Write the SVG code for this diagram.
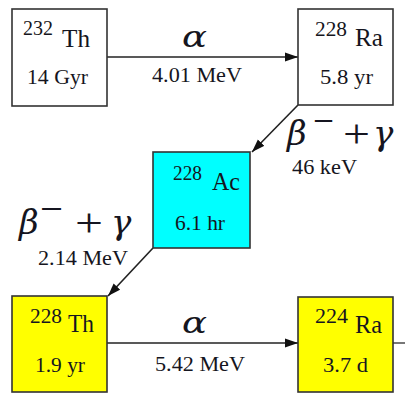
<svg xmlns="http://www.w3.org/2000/svg" width="405" height="393" viewBox="0 0 405 393">
<style>
.box{stroke:#333;stroke-width:1.6}
.w{fill:#fff}.c{fill:#00ffff}.y{fill:#ffff00}
text{font-family:"Liberation Serif","Times New Roman",serif;fill:#151520}
.m{font-size:20px}.s{font-size:25px}.h{font-size:21px}.e{font-size:20px}
.g{font-family:"DejaVu Serif","Liberation Serif",serif;font-style:italic;font-size:34px}
.a{font-family:"DejaVu Serif","Liberation Serif",serif;font-style:italic;font-size:30px}
.op{font-size:40px}
.con{stroke:#222;stroke-width:1.6;fill:none;marker-end:url(#ah)}
</style>
<defs>
<marker id="ah" markerUnits="userSpaceOnUse" markerWidth="14" markerHeight="10" refX="13" refY="5" orient="auto">
<path d="M0,0.5 L13,5 L0,9.5 Z" fill="#111"/>
</marker>
</defs>
<g id="connectors">
<line class="con" x1="107" y1="57" x2="298" y2="57"/>
<line class="con" x1="298" y1="105" x2="252" y2="152"/>
<line class="con" x1="153" y1="248" x2="108" y2="296"/>
<line class="con" x1="107" y1="343" x2="298" y2="343"/>
<line x1="393" y1="343" x2="405" y2="343" stroke="#555" stroke-width="1.6"/>
</g>
<g id="labels">
<text class="a" x="182" y="47" textLength="25" lengthAdjust="spacingAndGlyphs">α</text>
<text class="e" x="152" y="82" textLength="90" lengthAdjust="spacingAndGlyphs">4.01 MeV</text>
<text class="a" x="182" y="333" textLength="25" lengthAdjust="spacingAndGlyphs">α</text>
<text class="e" x="155" y="371" textLength="90" lengthAdjust="spacingAndGlyphs">5.42 MeV</text>
<text class="g" x="287" y="145">β</text>
<text class="op" x="313" y="134" textLength="21" lengthAdjust="spacingAndGlyphs">−</text>
<text class="op" x="343" y="147" textLength="27" lengthAdjust="spacingAndGlyphs">+</text>
<text class="g" x="373" y="145">γ</text>
<text class="e" x="292" y="174" textLength="65" lengthAdjust="spacingAndGlyphs">46 keV</text>
<text class="g" x="19" y="234">β</text>
<text class="op" x="40" y="222" textLength="23" lengthAdjust="spacingAndGlyphs">−</text>
<text class="op" x="75" y="236" textLength="28" lengthAdjust="spacingAndGlyphs">+</text>
<text class="g" x="111" y="234">γ</text>
<text class="e" x="38" y="265" textLength="90" lengthAdjust="spacingAndGlyphs">2.14 MeV</text>
</g>
<g id="th232">
<rect class="box w" x="12" y="9" width="95" height="97"/>
<text class="m" x="23" y="35" textLength="30" lengthAdjust="spacingAndGlyphs">232</text>
<text class="s" x="62" y="47" textLength="28" lengthAdjust="spacingAndGlyphs">Th</text>
<text class="h" x="27" y="84" textLength="61" lengthAdjust="spacingAndGlyphs">14 Gyr</text>
</g>
<g id="ra228">
<rect class="box w" x="298" y="9" width="95" height="96"/>
<text class="m" x="315" y="36" textLength="32" lengthAdjust="spacingAndGlyphs">228</text>
<text class="s" x="355" y="46" textLength="28" lengthAdjust="spacingAndGlyphs">Ra</text>
<text class="h" x="320" y="84" textLength="53" lengthAdjust="spacingAndGlyphs">5.8 yr</text>
</g>
<g id="ac228">
<rect class="box c" x="153" y="152" width="97" height="96"/>
<text class="m" x="173" y="180" textLength="29" lengthAdjust="spacingAndGlyphs">228</text>
<text class="s" x="212" y="190" textLength="28" lengthAdjust="spacingAndGlyphs">Ac</text>
<text class="h" x="175" y="230" textLength="50" lengthAdjust="spacingAndGlyphs">6.1 hr</text>
</g>
<g id="th228">
<rect class="box y" x="12" y="296" width="95" height="96"/>
<text class="m" x="30" y="323" textLength="32" lengthAdjust="spacingAndGlyphs">228</text>
<text class="s" x="68" y="332" textLength="26" lengthAdjust="spacingAndGlyphs">Th</text>
<text class="h" x="35" y="372" textLength="50" lengthAdjust="spacingAndGlyphs">1.9 yr</text>
</g>
<g id="ra224">
<rect class="box y" x="298" y="297" width="95" height="95"/>
<text class="m" x="315" y="323" textLength="33" lengthAdjust="spacingAndGlyphs">224</text>
<text class="s" x="355" y="333" textLength="27" lengthAdjust="spacingAndGlyphs">Ra</text>
<text class="h" x="323" y="372" textLength="45" lengthAdjust="spacingAndGlyphs">3.7 d</text>
</g>
</svg>
